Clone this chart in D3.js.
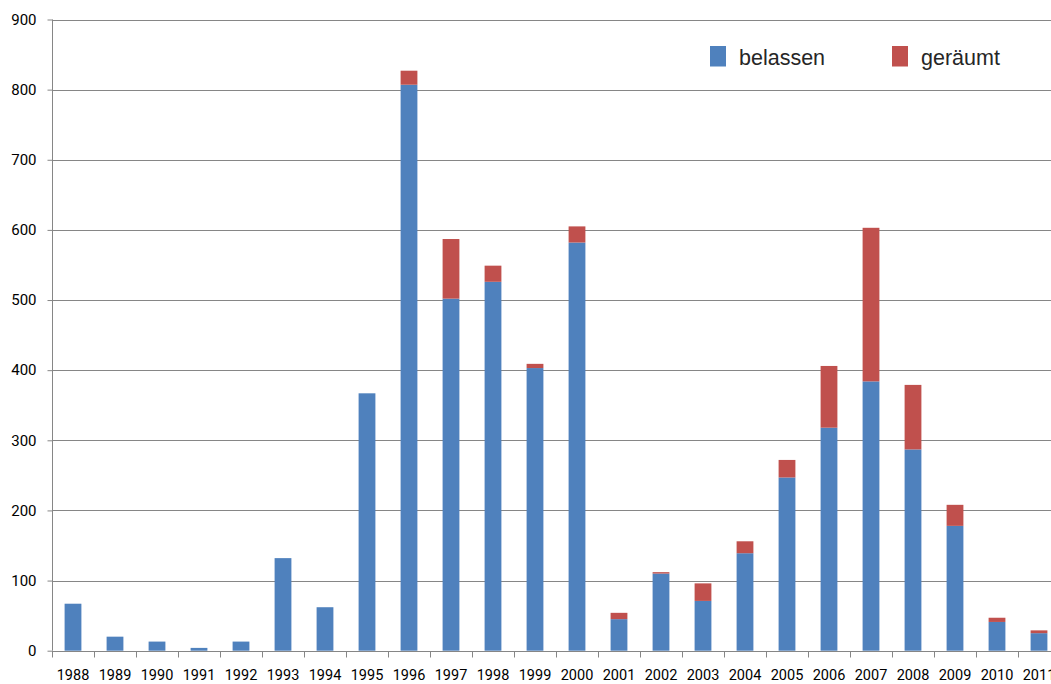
<!DOCTYPE html>
<html>
<head>
<meta charset="utf-8">
<script src="https://cdn.jsdelivr.net/npm/d3@7"></script>
<style>
  html, body { margin: 0; padding: 0; background: #fff; overflow: hidden; }
  svg { display: block; }
</style>
</head>
<body>
<div id="chart"></div>
<script>
// Yearly counts, stacked: left in place (belassen) and removed (geräumt)
const years = ["1988","1989","1990","1991","1992","1993","1994","1995","1996","1997","1998","1999",
               "2000","2001","2002","2003","2004","2005","2006","2007","2008","2009","2010","2011"];
const belassen = [67, 20, 13, 4, 13, 132, 62, 367, 807, 502, 526, 403,
                  582, 45, 110, 71, 139, 247, 318, 384, 287, 178, 41, 25];
const geraeumt = [0, 0, 0, 0, 0, 0, 0, 0, 20, 85, 23, 6,
                  23, 9, 2, 25, 17, 25, 88, 219, 92, 30, 6, 4];
const seriesNames = ["belassen", "geräumt"];
const yTicks = [0, 100, 200, 300, 400, 500, 600, 700, 800, 900];

(function () {
  const W = 1051, H = 684;
  const colors = ["#4F81BD", "#C0504D"];
  const axisGray = "#868686";

  const svg = d3.select("#chart").append("svg")
    .attr("width", W).attr("height", H);

  const plotLeft = 52, plotRight = 1060, plotTop = 19.5, plotBottom = 650.7;

  const x = d3.scaleBand().domain(years).range([plotLeft, plotRight])
    .paddingInner(0.6).paddingOuter(0.3);
  const xStep = d3.scaleBand().domain(years).range([plotLeft, plotRight]).padding(0);
  const y = d3.scaleLinear().domain([0, 900]).range([plotBottom, plotTop]);

  // horizontal gridlines
  svg.append("g").selectAll("line").data(yTicks.filter(d => d > 0)).join("line")
    .attr("x1", plotLeft).attr("x2", W)
    .attr("y1", d => Math.round(y(d)) + 0.5).attr("y2", d => Math.round(y(d)) + 0.5)
    .attr("stroke", axisGray).attr("stroke-width", 1);

  // stacked bars
  const rows = years.map((yr, i) => ({ year: yr, belassen: belassen[i], "geräumt": geraeumt[i] }));
  const stacked = d3.stack().keys(seriesNames)(rows);
  svg.append("g").selectAll("g").data(stacked).join("g")
    .attr("fill", (d, i) => colors[i])
    .selectAll("rect").data(d => d).join("rect")
    .attr("x", d => x(d.data.year))
    .attr("width", x.bandwidth())
    .attr("y", d => y(d[1]))
    .attr("height", d => Math.max(0, y(d[0]) - y(d[1])));

  // y axis
  const yAxis = svg.append("g")
    .attr("transform", `translate(${plotLeft + 0.5},0)`)
    .call(d3.axisLeft(y).tickValues(yTicks).tickSize(5).tickPadding(11).tickFormat(d3.format("d")));
  yAxis.select(".domain").attr("stroke", axisGray).attr("d", `M0,${plotTop}V${plotBottom}`);
  yAxis.selectAll(".tick line").attr("stroke", axisGray);
  yAxis.selectAll(".tick text")
    .attr("font-family", "Roboto, 'Noto Sans', sans-serif")
    .attr("font-size", 15).attr("fill", "#000");

  // x axis: ticks on category boundaries, labels centred on bars
  const xAxisG = svg.append("g").attr("transform", `translate(0,${Math.round(plotBottom) + 0.5})`);
  xAxisG.append("line").attr("x1", plotLeft).attr("x2", W).attr("y1", 0).attr("y2", 0)
    .attr("stroke", axisGray);
  xAxisG.selectAll("line.tk").data(years).join("line").attr("class", "tk")
    .attr("x1", d => Math.round(xStep(d)) + 0.5).attr("x2", d => Math.round(xStep(d)) + 0.5)
    .attr("y1", 0).attr("y2", 6).attr("stroke", axisGray);
  xAxisG.selectAll("text").data(years).join("text")
    .attr("x", d => x(d) + x.bandwidth() / 2)
    .attr("y", 28.5)
    .attr("text-anchor", "middle")
    .attr("font-family", "Roboto, 'Noto Sans', sans-serif")
    .attr("font-size", 14.5).attr("fill", "#000")
    .text(d => d);

  // legend
  const legendX = [710, 892];
  const legend = svg.append("g").selectAll("g").data(seriesNames).join("g")
    .attr("transform", (d, i) => `translate(${legendX[i]},46)`);
  legend.append("rect").attr("width", 16).attr("height", 20.5)
    .attr("fill", (d, i) => colors[i]);
  legend.append("text").attr("x", 29).attr("y", 19)
    .attr("font-family", "'Liberation Sans', Arial, sans-serif")
    .attr("font-size", 21.5).attr("fill", "#262626")
    .text(d => d);
})();
</script>
</body>
</html>
